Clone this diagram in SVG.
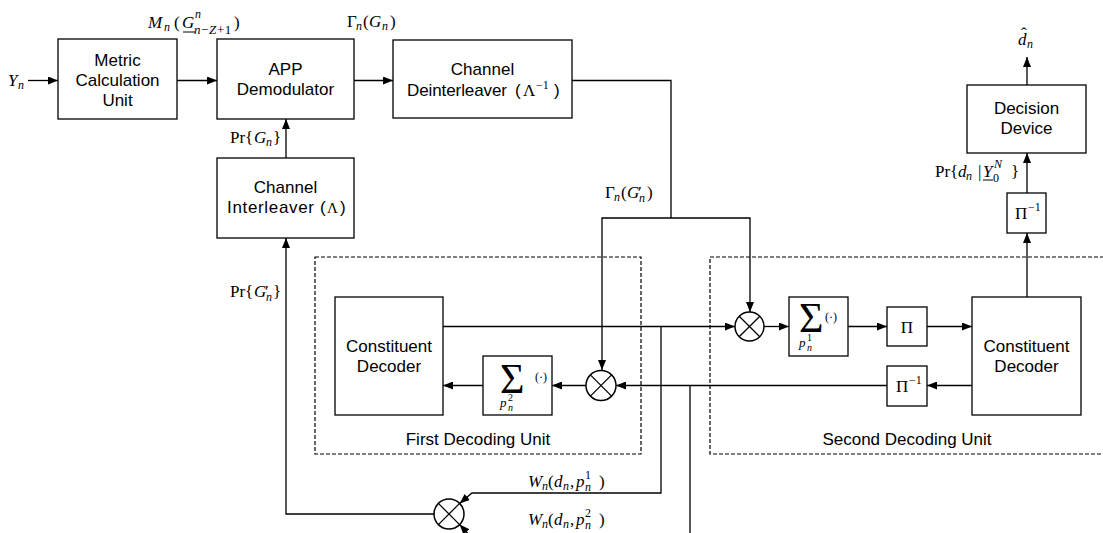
<svg xmlns="http://www.w3.org/2000/svg" width="1103" height="533" viewBox="0 0 1103 533">
<defs>
<marker id="ah" markerWidth="10" markerHeight="8" refX="10" refY="4" orient="auto" markerUnits="userSpaceOnUse"><path d="M0,0 L10,4 L0,8 z" fill="#000"/></marker>
<style>
.box{fill:#fff;stroke:#000;stroke-width:1.3}
.dash{fill:none;stroke:#000;stroke-width:1.2;stroke-dasharray:4 2}
.wire{fill:none;stroke:#000;stroke-width:1.3}
.arr{marker-end:url(#ah)}
.mul{fill:#fff;stroke:#000;stroke-width:1.5}
.t{font-family:"Liberation Sans",Arial,sans-serif;font-size:17px;fill:#000}
.m{font-family:"Liberation Serif","Times New Roman",serif;font-size:17px;fill:#000}
.i{font-style:italic}
.s{font-size:12px}
.xs{font-size:10px}
.big{font-size:42px}
.p13{font-size:13px}
.l15{font-size:15px}
</style>
</defs>
<rect width="1103" height="533" fill="#fff"/>

<g id="first-unit">
<rect class="dash" x="315" y="257" width="326" height="197"/>
<text class="t" x="478" y="445" text-anchor="middle">First Decoding Unit</text>
</g>
<g id="second-unit">
<rect class="dash" x="710" y="257" width="400" height="197"/>
<text class="t" x="907" y="445" text-anchor="middle">Second Decoding Unit</text>
</g>

<g id="connectors">
<path class="wire arr" d="M28,80.5 H58"/>
<path class="wire arr" d="M177,80.5 H217"/>
<path class="wire arr" d="M354,80.5 H393"/>
<path class="wire" d="M572,80.5 H671 V218"/>
<path class="wire arr" d="M671,218 H602 V370"/>
<path class="wire arr" d="M671,218 H750 V312"/>
<path class="wire arr" d="M286,158 V119"/>
<path class="wire arr" d="M443,326.5 H735"/>
<path class="wire arr" d="M764,326.5 H789"/>
<path class="wire arr" d="M848,326.5 H887"/>
<path class="wire arr" d="M927,326.5 H972"/>
<path class="wire arr" d="M972,385.5 H927"/>
<path class="wire arr" d="M887,385.5 H616"/>
<path class="wire arr" d="M586,385.5 H552"/>
<path class="wire arr" d="M483,385.5 H443"/>
<path class="wire arr" d="M1027,297 V233"/>
<path class="wire arr" d="M1027,193 V153"/>
<path class="wire arr" d="M1027,85 V57"/>
<path class="wire arr" d="M661,326.5 V493 H472 L459.6,503.4"/>
<path class="wire arr" d="M690,385.5 V541 H475 L459.6,524.6"/>
<path class="wire arr" d="M434,514 H286 V238"/>
</g>

<g id="metric-calculation-unit">
<rect class="box" x="58" y="39" width="119" height="80"/>
<text class="t" x="117.5" y="66" text-anchor="middle">Metric</text>
<text class="t" x="117.5" y="86" text-anchor="middle">Calculation</text>
<text class="t" x="117.5" y="106" text-anchor="middle">Unit</text>
</g>

<g id="app-demodulator">
<rect class="box" x="217" y="39" width="137" height="80"/>
<text class="t" x="285.5" y="75" text-anchor="middle">APP</text>
<text class="t" x="285.5" y="95" text-anchor="middle">Demodulator</text>
</g>

<g id="channel-deinterleaver">
<rect class="box" x="393" y="40" width="179" height="78"/>
<text class="t" x="482.5" y="75" text-anchor="middle">Channel</text>
<text class="t" x="407" y="96" textLength="100" lengthAdjust="spacing">Deinterleaver</text>
<text class="t" x="515" y="96">(</text>
<text class="m" x="523" y="96">Λ</text>
<text class="m s" x="536" y="89">−1</text>
<text class="t" x="554" y="96">)</text>
</g>

<g id="channel-interleaver">
<rect class="box" x="217" y="158" width="137" height="80"/>
<text class="t" x="285.5" y="193" text-anchor="middle">Channel</text>
<text class="t" x="227" y="213" textLength="87" lengthAdjust="spacing">Interleaver</text>
<text class="t" x="320" y="213">(</text>
<text class="m l15" x="327" y="213">Λ</text>
<text class="t" x="340" y="213">)</text>
</g>

<g id="constituent-decoder-1">
<rect class="box" x="335" y="297" width="108" height="118"/>
<text class="t" x="389" y="352" text-anchor="middle">Constituent</text>
<text class="t" x="389" y="372" text-anchor="middle">Decoder</text>
</g>

<g id="sum-1">
<rect class="box" x="483" y="356" width="69" height="59"/>
<text class="m big" x="500" y="393">Σ</text>
<text class="m s" x="535" y="381">(·)</text>
<text class="m i p13" x="500" y="407">p</text>
<text class="m xs" x="508" y="401">2</text>
<text class="m i xs" x="508" y="411">n</text>
</g>

<g id="multiplier-1">
<circle class="mul" cx="601" cy="385.5" r="15"/>
<path class="wire" d="M590.4,374.9 L611.6,396.1 M611.6,374.9 L590.4,396.1"/>
</g>

<g id="multiplier-2">
<circle class="mul" cx="749.5" cy="326.5" r="14.5"/>
<path class="wire" d="M739.2,316.2 L759.8,336.8 M759.8,316.2 L739.2,336.8"/>
</g>

<g id="sum-2">
<rect class="box" x="789" y="297" width="59" height="59"/>
<text class="m big" x="799" y="332">Σ</text>
<text class="m s" x="825" y="321">(·)</text>
<text class="m i p13" x="799" y="347">p</text>
<text class="m xs" x="807" y="341">1</text>
<text class="m i xs" x="807" y="351">n</text>
</g>

<g id="interleaver-pi">
<rect class="box" x="887" y="307" width="40" height="39"/>
<text class="m" x="907" y="333" text-anchor="middle">Π</text>
</g>

<g id="deinterleaver-pi-inv">
<rect class="box" x="887" y="366" width="40" height="40"/>
<text class="m" x="896" y="392">Π</text>
<text class="m s" x="909" y="384">−1</text>
</g>

<g id="constituent-decoder-2">
<rect class="box" x="972" y="297" width="109" height="118"/>
<text class="t" x="1026.5" y="352" text-anchor="middle">Constituent</text>
<text class="t" x="1026.5" y="372" text-anchor="middle">Decoder</text>
</g>

<g id="output-pi-inv">
<rect class="box" x="1007" y="193" width="39" height="40"/>
<text class="m" x="1015" y="219">Π</text>
<text class="m s" x="1028" y="211">−1</text>
</g>

<g id="decision-device">
<rect class="box" x="967" y="85" width="119" height="68"/>
<text class="t" x="1026.5" y="114" text-anchor="middle">Decision</text>
<text class="t" x="1026.5" y="134" text-anchor="middle">Device</text>
</g>

<g id="multiplier-3">
<circle class="mul" cx="449" cy="514" r="15"/>
<path class="wire" d="M438.4,503.4 L459.6,524.6 M459.6,503.4 L438.4,524.6"/>
</g>

<g id="labels">
<text class="m i" x="8" y="86">Y</text>
<text class="m i s" x="18" y="89">n</text>

<text class="m i" x="148" y="28">M</text>
<text class="m i s" x="164" y="31">n</text>
<text class="m" x="174" y="28">(</text>
<text class="m i" x="182" y="28">G</text>
<line x1="183" y1="32" x2="195" y2="32" stroke="#000" stroke-width="1"/>
<text class="m i s" x="195" y="18">n</text>
<text class="m p13" x="194" y="34" letter-spacing="0.6"><tspan class="i">n</tspan>−<tspan class="i">Z</tspan>+1</text>
<text class="m" x="234" y="28">)</text>

<text class="m" x="347" y="27">Γ</text>
<text class="m i s" x="356" y="30">n</text>
<text class="m" x="363" y="27">(</text>
<text class="m i" x="369" y="27">G</text>
<text class="m i s" x="382" y="30">n</text>
<text class="m" x="390" y="27">)</text>

<text class="m" x="230" y="143">Pr{</text>
<text class="m i" x="254" y="143">G</text>
<text class="m i s" x="266" y="146">n</text>
<text class="m" x="273" y="143">}</text>

<text class="m" x="230" y="297">Pr{</text>
<text class="m i" x="254" y="297">G</text>
<text class="m" x="265" y="297">′</text>
<text class="m i s" x="266" y="301">n</text>
<text class="m" x="273" y="297">}</text>

<text class="m" x="605" y="198">Γ</text>
<text class="m i s" x="614" y="201">n</text>
<text class="m" x="621" y="198">(</text>
<text class="m i" x="627" y="198">G</text>
<text class="m" x="638" y="198">′</text>
<text class="m i s" x="639" y="202">n</text>
<text class="m" x="647" y="198">)</text>

<text class="m" x="935" y="177">Pr{</text>
<text class="m i" x="958" y="177">d</text>
<text class="m i s" x="966" y="180">n</text>
<text class="m" x="978" y="177">|</text>
<text class="m i" x="983" y="177">Y</text>
<line x1="983" y1="180" x2="993" y2="180" stroke="#000" stroke-width="1"/>
<text class="m i s" x="994" y="168">N</text>
<text class="m s" x="993" y="182">0</text>
<text class="m" x="1011" y="177">}</text>

<text class="m" x="1021" y="39">ˆ</text>
<text class="m i" x="1018" y="45">d</text>
<text class="m i s" x="1027" y="48">n</text>

<text class="m i" x="528" y="487">W</text>
<text class="m i s" x="542" y="490">n</text>
<text class="m" x="548" y="487">(</text>
<text class="m i" x="554" y="487">d</text>
<text class="m i s" x="563" y="490">n</text>
<text class="m" x="570" y="487">,</text>
<text class="m i" x="576" y="487">p</text>
<text class="m s" x="585" y="479">1</text>
<text class="m i s" x="585" y="491">n</text>
<text class="m" x="599" y="487">)</text>

<text class="m i" x="528" y="525">W</text>
<text class="m i s" x="542" y="528">n</text>
<text class="m" x="548" y="525">(</text>
<text class="m i" x="554" y="525">d</text>
<text class="m i s" x="563" y="528">n</text>
<text class="m" x="570" y="525">,</text>
<text class="m i" x="576" y="525">p</text>
<text class="m s" x="585" y="517">2</text>
<text class="m i s" x="585" y="529">n</text>
<text class="m" x="599" y="525">)</text>
</g>
</svg>
